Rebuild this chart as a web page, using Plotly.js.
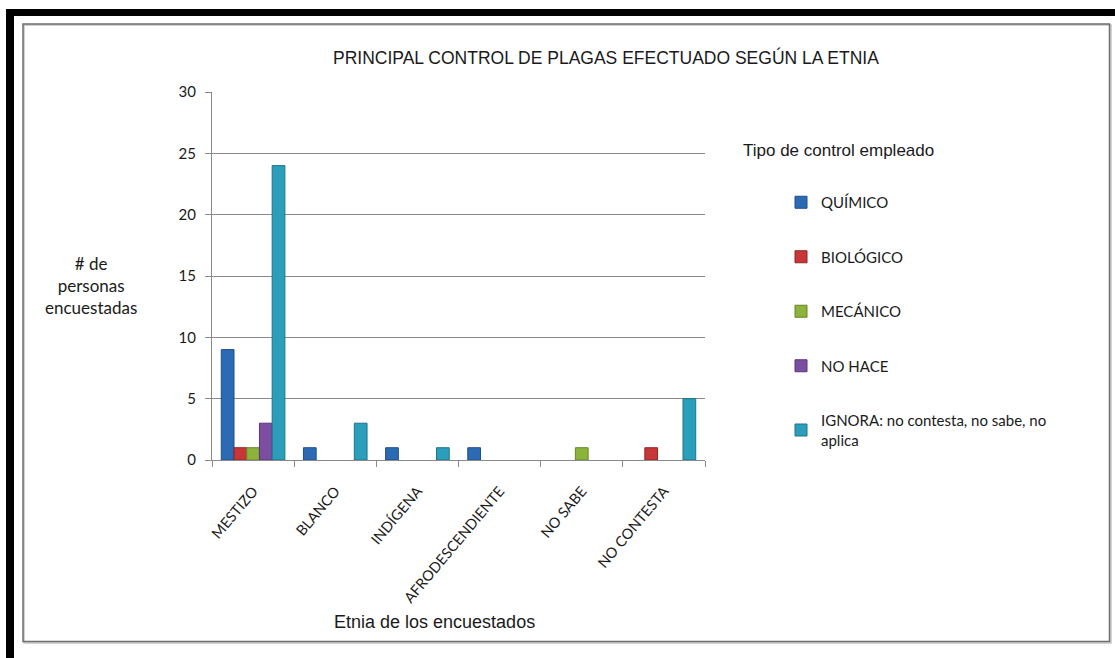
<!DOCTYPE html>
<html>
<head>
<meta charset="utf-8">
<script src="https://cdn.plot.ly/plotly-3.0.1.min.js"></script>
<style>html,body{margin:0;padding:0;background:#fff;}#chart{width:1115px;height:658px;}</style>
</head>
<body>
<div id="chart"></div>
<script>
const categories = ["MESTIZO", "BLANCO", "INDÍGENA", "AFRODESCENDIENTE", "NO SABE", "NO CONTESTA"];
const seriesNames = ["QUÍMICO", "BIOLÓGICO", "MECÁNICO", "NO HACE", "IGNORA: no contesta, no sabe, no<br>aplica"];
const quimico   = [9, 1, 1, 1, 0, 0];
const biologico = [1, 0, 0, 0, 0, 1];
const mecanico  = [1, 0, 0, 0, 1, 0];
const noHace    = [3, 0, 0, 0, 0, 0];
const ignora    = [24, 3, 1, 0, 0, 5];
const yTicks = [0, 5, 10, 15, 20, 25, 30];

const colors = ["#2C6BB3", "#C83737", "#8DB43A", "#7B4EA1", "#2B9EBB"];
const lineColors = ["#1F4E8A", "#8F2424", "#66852A", "#5A3778", "#1E7489"];
const allSeries = [quimico, biologico, mecanico, noHace, ignora];

const W = 1115, H = 658;
const L = 212, R = 705, T = 92, B = 460;
const px = x => (x - L) / (R - L);
const py = y => (B - y) / (B - T);

const traces = allSeries.map((vals, i) => ({
  type: "bar",
  name: seriesNames[i],
  x: categories,
  y: vals,
  legendgroup: "g" + i,
  marker: {color: colors[i], line: {color: lineColors[i], width: vals.map(v => v > 0 ? 1 : 0)}},
  hoverinfo: "x+y+name"
}));

const layout = {
  width: W, height: H,
  margin: {l: L, r: W - R, t: T, b: H - B, pad: 0},
  paper_bgcolor: "#ffffff",
  plot_bgcolor: "#ffffff",
  font: {family: "Lato, 'Liberation Sans', sans-serif", color: "#1a1a1a", size: 14},
  barmode: "group",
  bargap: 0.226,
  bargroupgap: 0,
  showlegend: true,
  legend: {
    x: px(781), xanchor: "left",
    y: py(186), yanchor: "top",
    traceorder: "grouped",
    tracegroupgap: 32,
    font: {family: "Lato, 'Liberation Sans', sans-serif", size: 15, color: "#1a1a1a"},
    bgcolor: "rgba(0,0,0,0)",
    itemwidth: 30
  },
  xaxis: {
    type: "category",
    showgrid: false,
    showline: true, linecolor: "#8a8a8a", linewidth: 1,
    ticks: "outside", ticklen: 6, tickcolor: "#8a8a8a",
    tickson: "boundaries",
    tickangle: -50,
    ticklabelstandoff: 16,
    tickfont: {family: "Lato, 'Liberation Sans', sans-serif", size: 14.5, color: "#1a1a1a"},
    zeroline: false,
    fixedrange: true
  },
  yaxis: {
    range: [0, 30],
    tickvals: yTicks,
    ticktext: yTicks.map(String),
    showgrid: true, gridcolor: "#8a8a8a", gridwidth: 1,
    showline: true, linecolor: "#8a8a8a", linewidth: 1,
    ticks: "outside", ticklen: 6, tickcolor: "#8a8a8a",
    ticklabelstandoff: 6,
    tickfont: {family: "Lato, 'Liberation Sans', sans-serif", size: 15, color: "#1a1a1a"},
    zeroline: false,
    fixedrange: true
  },
  annotations: [
    {text: "PRINCIPAL CONTROL DE PLAGAS EFECTUADO SEGÚN LA ETNIA", xref: "paper", yref: "paper",
     x: px(606), y: py(58), xanchor: "center", yanchor: "middle", showarrow: false,
     font: {family: "'Liberation Sans', Arial, sans-serif", size: 17.5, color: "#1a1a1a"}},
    {text: "# de<br>personas<br>encuestadas", xref: "paper", yref: "paper",
     x: px(91), y: py(285), xanchor: "center", yanchor: "middle", showarrow: false, align: "center",
     font: {family: "Lato, 'Liberation Sans', sans-serif", size: 17, color: "#1a1a1a"}},
    {text: "Etnia de los encuestados", xref: "paper", yref: "paper",
     x: px(434), y: py(622), xanchor: "center", yanchor: "middle", showarrow: false,
     font: {family: "'Liberation Sans', Arial, sans-serif", size: 18, color: "#1a1a1a"}},
    {text: "Tipo de control empleado", xref: "paper", yref: "paper",
     x: px(741), y: py(150), xanchor: "left", yanchor: "middle", showarrow: false,
     font: {family: "'Liberation Sans', Arial, sans-serif", size: 17, color: "#1a1a1a"}}
  ],
  shapes: [
    {type: "rect", xref: "paper", yref: "paper", x0: px(6), x1: px(1115), y0: py(9), y1: py(16),
     fillcolor: "#000", line: {width: 0}, layer: "above"},
    {type: "rect", xref: "paper", yref: "paper", x0: px(6), x1: px(14), y0: py(9), y1: py(658),
     fillcolor: "#000", line: {width: 0}, layer: "above"},
    {type: "rect", xref: "paper", yref: "paper", x0: px(24), x1: px(1111), y0: py(25), y1: py(643),
     fillcolor: "rgba(0,0,0,0)", line: {color: "#c4c4c4", width: 1.5}, layer: "below"},
    {type: "rect", xref: "paper", yref: "paper", x0: px(23), x1: px(1109.5), y0: py(24), y1: py(641.5),
     fillcolor: "rgba(0,0,0,0)", line: {color: "#6e6e6e", width: 1.5}, layer: "below"}
  ]
};

Plotly.newPlot("chart", traces, layout, {staticPlot: true, displayModeBar: false});
</script>
</body>
</html>
